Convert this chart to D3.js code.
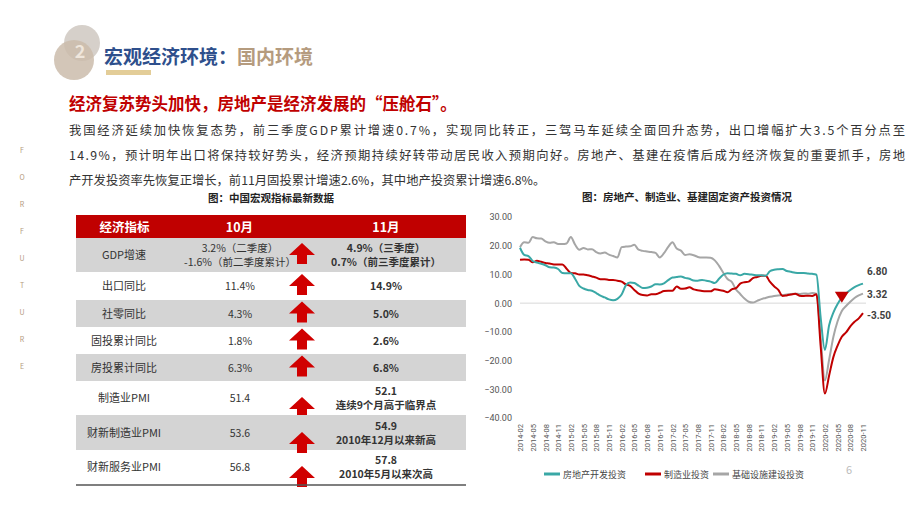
<!DOCTYPE html>
<html><head><meta charset="utf-8">
<script src="https://cdn.jsdelivr.net/npm/d3@7"></script>
<style>
body{margin:0;background:#fff;font-family:"Noto Sans CJK SC","Noto Sans",sans-serif}
svg{display:block}
</style></head>
<body><svg width="920" height="518"></svg>
<script>
// chart data (monthly cumulative YoY, 2014-02 .. 2020-11)
const realEstate = [19.3,16.8,16.4,14.7,14.1,13.7,13.2,12.5,12.4,11.9,10.5,
  10.4,10.4,8.5,6.0,5.1,4.6,4.3,3.5,2.6,2.0,1.3,1.0,
  1.5,3.0,6.2,7.2,7.0,6.1,5.3,5.4,5.8,6.6,6.5,6.9,
  8.0,8.9,9.1,9.3,8.8,8.5,7.9,7.8,8.1,7.8,7.5,7.0,
  8.5,9.9,10.4,10.3,10.2,9.7,10.2,10.1,9.9,9.7,9.7,9.5,
  11.1,11.6,11.8,11.9,11.2,10.9,10.6,10.5,10.5,10.3,10.2,9.9,
  -5,-16.3,-7.7,-3.3,-0.3,1.9,3.4,4.6,5.6,6.3,6.8]
const manufacturing = [15.1,15.2,15.1,14.2,14.8,14.4,14.0,13.8,13.5,13.5,13.5,
  12.0,10.5,10.4,10.0,10.0,9.7,9.3,8.9,8.3,8.3,8.1,8.1,
  7.8,7.5,6.5,6.0,4.6,3.3,2.8,2.7,3.1,3.1,3.6,4.2,
  4.3,4.3,5.8,5.0,5.1,5.5,4.8,4.5,4.2,4.1,4.1,4.8,
  4.6,4.3,3.8,4.8,5.2,6.8,7.3,7.5,8.7,9.1,9.5,9.5,
  7.5,5.9,4.6,2.5,2.7,3.0,3.3,2.6,2.5,2.6,2.5,3.1,
  -15,-31.5,-25.2,-18.8,-14.8,-11.7,-10.2,-8.1,-6.5,-5.3,-3.5]
const infrastructure = [19.5,21.2,21.0,23.0,22.6,22.5,21.5,21.0,21.2,20.6,20.6,
  20.8,23.0,20.4,18.6,19.2,18.7,18.8,17.8,17.3,17.6,16.9,16.4,
  15.9,19.5,19.7,19.8,20.3,18.6,18.2,18.0,17.8,17.5,15.9,17.4,
  19.6,21.2,19.0,18.3,16.8,17.0,16.7,16.1,15.9,15.9,15.8,14.9,
  13.0,10.6,8.4,7.4,4.8,3.2,1.6,0.5,0.2,0.8,1.4,1.8,
  2.2,2.5,2.7,2.8,3.0,3.2,3.3,3.2,3.4,3.3,3.5,3.3,
  -12,-26.9,-19.7,-11.8,-6.3,-2.7,-1.0,0.5,1.8,2.7,3.3]
const seriesNames = ['房地产开发投资','制造业投资','基础设施建设投资']
const seriesColors = ['#3aa8a6','#c00000','#a6a6a6']
const yTicks = [30,20,10,0,-10,-20,-30,-40]

// table data
const tableHeader = ['经济指标','10月','11月']
const indicators = ['GDP增速','出口同比','社零同比','固投累计同比','房投累计同比','制造业PMI','财新制造业PMI','财新服务业PMI']
const octValues = [['3.2%（二季度）','-1.6%（前二季度累计）'],['11.4%'],['4.3%'],['1.8%'],['6.3%'],['51.4'],['53.6'],['56.8']]
const novValues = [['4.9%（三季度）','0.7%（前三季度累计）'],['14.9%'],['5.0%'],['2.6%'],['6.8%'],['52.1','连续9个月高于临界点'],['54.9','2010年12月以来新高'],['57.8','2010年5月以来次高']]

const months = []
for (let y = 2014; y <= 2020; y++) for (let m = 1; m <= 12; m++) {
  if ((y === 2014 && m < 2) || (y === 2020 && m > 11)) continue
  months.push(`${y}-${String(m).padStart(2,'0')}`)
}

const svg = d3.select('svg')

// ---- header ----
const logo = svg.append('g')
logo.append('circle').attr('cx', 82).attr('cy', 43).attr('r', 18).style('fill', '#d6d0ca')
logo.append('circle').attr('cx', 74).attr('cy', 60).attr('r', 20).style('fill', '#cbbcab').style('opacity', 0.85)
logo.append('text').attr('x', 80).attr('y', 58).text('2').style('fill', '#efe6dc').style('font-size', 18).style('font-weight', 700).attr('text-anchor', 'middle')
svg.append('text').attr('x', 104).attr('y', 64).style('font-size', 19).style('font-weight', 700)
  .call(t => {
    t.append('tspan').text('宏观经济环境：').style('fill', '#2e4f8c')
    t.append('tspan').text('国内环境').style('fill', '#b59b7e')
  })
svg.append('rect').attr('x', 106).attr('y', 70).attr('width', 45).attr('height', 5).style('fill', '#e3cd98')

'FORFUTURE'.split('').forEach((c, i) => {
  svg.append('text').attr('x', 22).attr('y', 153 + i * 27).text(c)
    .style('font-size', 7).style('fill', '#b59b7e').attr('text-anchor', 'middle')
})

svg.append('text').attr('x', 69).attr('y', 110).text('经济复苏势头加快，房地产是经济发展的“压舱石”。')
  .style('font-size', 16.5).style('font-weight', 700).style('fill', '#c00000')
const para = ['我国经济延续加快恢复态势，前三季度GDP累计增速0.7%，实现同比转正，三驾马车延续全面回升态势，出口增幅扩大3.5个百分点至',
  '14.9%，预计明年出口将保持较好势头，经济预期持续好转带动居民收入预期向好。房地产、基建在疫情后成为经济恢复的重要抓手，房地',
  '产开发投资率先恢复正增长，前11月固投累计增速2.6%，其中地产投资累计增速6.8%。']
para.forEach((l, i) => svg.append('text').attr('x', 69).attr('y', 135 + i * 25).text(l)
  .style('font-size', 12.3).style('fill', '#333').attr('textLength', i < 2 ? 836 : null))

// ---- table ----
svg.append('text').attr('x', 271).attr('y', 202).text('图：中国宏观指标最新数据').attr('text-anchor', 'middle')
  .style('font-size', 10.5).style('font-weight', 700).style('fill', '#222')
const colX = [76, 173, 306, 466]
const rowY = [215, 238, 272, 300, 327, 354, 381, 415, 450, 484]
const tbl = svg.append('g')
tbl.append('rect').attr('x', 76).attr('y', 215).attr('width', 390).attr('height', 23).style('fill', '#c00000')
tableHeader.forEach((h, i) => tbl.append('text').attr('x', (colX[i] + colX[i + 1]) / 2).attr('y', 232).text(h)
  .attr('text-anchor', 'middle').style('fill', '#fff').style('font-size', 12.5).style('font-weight', 700))
indicators.forEach((name, i) => {
  const y0 = rowY[i + 1], y1 = rowY[i + 2], cy = (y0 + y1) / 2
  if (i % 2 === 0) tbl.append('rect').attr('x', 76).attr('y', y0).attr('width', 390).attr('height', y1 - y0).style('fill', '#d4d4d4')
  tbl.append('text').attr('x', 124).attr('y', cy + 4).text(name).attr('text-anchor', 'middle').style('font-size', 11).style('fill', '#333')
  const cell = (lines, x, bold) => lines.forEach((l, j) => tbl.append('text').attr('x', x)
    .attr('y', cy + 4 + (j - (lines.length - 1) / 2) * 14).text(l).attr('text-anchor', 'middle')
    .style('font-size', 10.5).style('fill', '#333').style('font-weight', bold ? 700 : 400))
  cell(octValues[i], 240, false)
  cell(novValues[i], 386, true)
  const ay = i < 5 ? cy : y1 - 6
  tbl.append('path').attr('transform', `translate(302,${ay})`)
    .attr('d', 'M0,-12 L13,0 L5,0 L5,9 L-5,9 L-5,0 L-13,0 Z').style('fill', '#d00000')
})
tbl.append('line').attr('x1', 76).attr('x2', 466).attr('y1', 485).attr('y2', 485).style('stroke', '#555').style('stroke-width', 1.5)

// ---- line chart ----
svg.append('text').attr('x', 687).attr('y', 201).text('图：房地产、制造业、基建固定资产投资情况').attr('text-anchor', 'middle')
  .style('font-size', 10.5).style('font-weight', 700).style('fill', '#222')
const x = d3.scalePoint().domain(months).range([520, 863])
const y = d3.scaleLinear().domain([-40, 30]).range([418, 217])
const g = svg.append('g')
g.append('line').attr('x1', 520).attr('x2', 866).attr('y1', y(0)).attr('y2', y(0)).style('stroke', '#d9d9d9')
g.append('g').attr('transform', 'translate(515,0)')
  .call(d3.axisLeft(y).tickValues(yTicks).tickFormat(d3.format('.2f')).tickSize(0))
  .call(a => a.select('.domain').remove())
  .selectAll('text').style('font-size', 9).style('fill', '#555').style('font-family', 'Roboto, sans-serif')
g.append('g').attr('transform', `translate(0,${y(-40) + 4})`)
  .call(d3.axisBottom(x).tickValues(months.filter((m, i) => i % 3 === 0)).tickSize(0))
  .call(a => a.select('.domain').remove())
  .selectAll('text').attr('transform', 'rotate(-90)').attr('text-anchor', 'end')
  .attr('dx', 0).attr('dy', '0.35em').attr('x', -2).attr('y', 0)
  .style('font-size', 7.5).style('fill', '#555').style('font-family', 'Roboto, sans-serif')
const line = d3.line().x((d, i) => x(months[i])).y(d => y(d)).curve(d3.curveMonotoneX)
;[infrastructure, manufacturing, realEstate].forEach((s, k) => {
  const ci = [2, 1, 0][k]
  g.append('path').datum(s).attr('d', line).style('fill', 'none').style('stroke', seriesColors[ci]).style('stroke-width', 2)
})
const last = months[months.length - 1]
const lbl = (v, txt, dy) => g.append('text').attr('x', x(last) + 4).attr('y', y(v) + dy).text(txt)
  .style('font-size', 10).style('font-weight', 700).style('fill', '#404040').style('font-family', 'Roboto, sans-serif')
lbl(realEstate[realEstate.length - 1], '6.80', -9)
lbl(infrastructure[infrastructure.length - 1], '3.32', 4)
lbl(manufacturing[manufacturing.length - 1], '-3.50', 6)
g.append('path').attr('transform', `translate(${x('2020-06')},${y(2.2)})`).attr('d', 'M-7,-5 L7,-5 L0,6 Z').style('fill', '#c00000')

const leg = svg.append('g').attr('transform', 'translate(544,474)')
const legX = [0, 101, 169]
seriesNames.forEach((n, i) => {
  leg.append('line').attr('x1', legX[i]).attr('x2', legX[i] + 16).attr('y1', 0).attr('y2', 0)
    .style('stroke', seriesColors[i]).style('stroke-width', 3)
  leg.append('text').attr('x', legX[i] + 19).attr('y', 3.5).text(n).style('font-size', 9).style('fill', '#444')
})
svg.append('text').attr('x', 846).attr('y', 474).text('6').style('font-size', 11).style('fill', '#bbb')
</script></body></html>
